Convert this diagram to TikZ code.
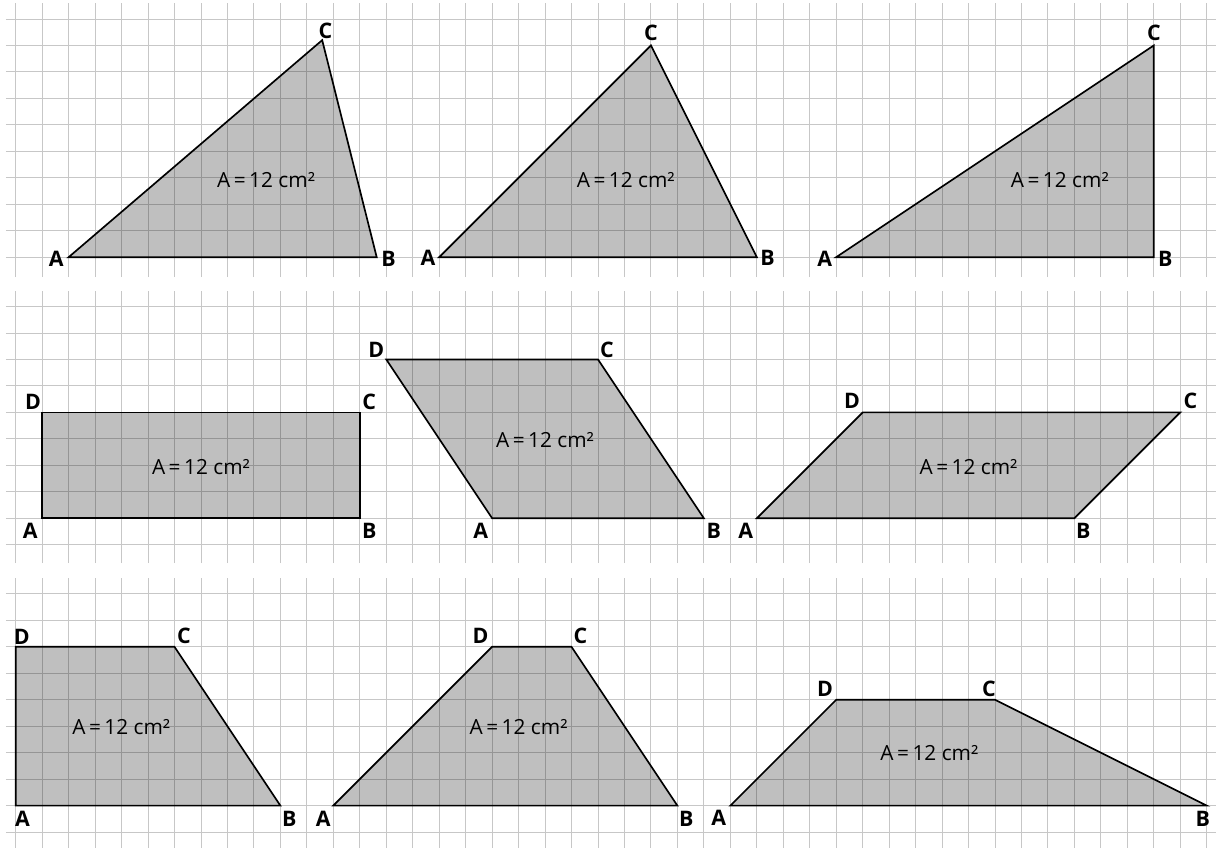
\documentclass[tikz,border=0pt]{standalone}
\usepackage{fontspec}
\setmainfont{Open Sans}
\usetikzlibrary{calc}

\tikzset{
  figure/.style={fill=black!25, draw=black, line width=0.9pt, line join=miter},
  gridline/.style={draw=black, draw opacity=0.22, line width=0.5pt},
  vtx/.style={font=\bfseries\fontsize{11.5}{13}\selectfont, inner sep=0pt},
  area/.style={font=\fontsize{11.2}{13}\selectfont, inner sep=0pt}
}

\begin{document}
\begin{tikzpicture}[x=0.5cm, y=0.5cm]
    \useasboundingbox (-0.593,-22.32) rectangle (45.35,9.717);

    % Row 1: triangles
    \begin{scope}
        \filldraw[figure] (2,0) coordinate (A1) -- (13.64,0) coordinate (B1) -- (11.58,8.2) coordinate (C1) -- cycle;
        \filldraw[figure] (16,0) coordinate (A2) -- (28,0) coordinate (B2) -- (24,8) coordinate (C2) -- cycle;
        \filldraw[figure] (31,0) coordinate (A3) -- (43,0) coordinate (B3) -- (43,8) coordinate (C3) -- cycle;
        \draw[gridline] \foreach \i in {0,...,45} {(\i,-0.75) -- (\i,9.6)}
                        \foreach \j in {0,...,9} {(-0.37,\j) -- (45.35,\j)};

        \node[vtx] at ($(A1)+(-0.47,-0.05)$) {A};
        \node[vtx] at ($(B1)+(0.45,-0.05)$) {B};
        \node[vtx] at ($(C1)+(0.12,0.36)$) {C};
        \node[area] (area1) at (9.46,2.92) {A\,=\,12 cm²};

        \node[vtx] at ($(A2)+(-0.42,-0.03)$) {A};
        \node[vtx] at ($(B2)+(0.41,-0.03)$) {B};
        \node[vtx] at ($(C2)+(0,0.48)$) {C};
        \node[area] (area2) at (23.05,2.93) {A\,=\,12 cm²};

        \node[vtx] at ($(A3)+(-0.43,-0.05)$) {A};
        \node[vtx] at ($(B3)+(0.43,-0.05)$) {B};
        \node[vtx] at ($(C3)+(0,0.48)$) {C};
        \node[area] (area3) at (39.45,2.92) {A\,=\,12 cm²};
    \end{scope}

    % Row 2: rectangle and parallelograms
    \begin{scope}[shift={(0,-9.864)}]
        \filldraw[figure] (1,0) coordinate (A4) -- (13,0) coordinate (B4) -- (13,4) coordinate (C4) -- (1,4) coordinate (D4) -- cycle;
        \filldraw[figure] (18,0) coordinate (A5) -- (26,0) coordinate (B5) -- (22,6) coordinate (C5) -- (14,6) coordinate (D5) -- cycle;
        \filldraw[figure] (28,0) coordinate (A6) -- (40,0) coordinate (B6) -- (44,4) coordinate (C6) -- (32,4) coordinate (D6) -- cycle;
        \draw[gridline] \foreach \i in {0,...,45} {(\i,-1.69) -- (\i,8.59)}
                        \foreach \j in {-1,...,8} {(-0.37,\j) -- (45.35,\j)};

        \node[vtx] at ($(A4)+(-0.45,-0.47)$) {A};
        \node[vtx] at ($(B4)+(0.36,-0.47)$) {B};
        \node[vtx] at ($(C4)+(0.36,0.40)$) {C};
        \node[vtx] at ($(D4)+(-0.34,0.40)$) {D};
        \node[area] (area4) at (7,1.94) {A\,=\,12 cm²};

        \node[vtx] at ($(A5)+(-0.43,-0.47)$) {A};
        \node[vtx] at ($(B5)+(0.38,-0.47)$) {B};
        \node[vtx] at ($(C5)+(0.34,0.38)$) {C};
        \node[vtx] at ($(D5)+(-0.38,0.38)$) {D};
        \node[area] (area5) at (20,2.95) {A\,=\,12 cm²};

        \node[vtx] at ($(A6)+(-0.42,-0.47)$) {A};
        \node[vtx] at ($(B6)+(0.34,-0.47)$) {B};
        \node[vtx] at ($(C6)+(0.38,0.42)$) {C};
        \node[vtx] at ($(D6)+(-0.40,0.42)$) {D};
        \node[area] (area6) at (36,1.94) {A\,=\,12 cm²};
    \end{scope}

    % Row 3: trapezoids
    \begin{scope}[shift={(0,-20.72)}]
        \filldraw[figure] (0,0) coordinate (A7) -- (10,0) coordinate (B7) -- (6,6) coordinate (C7) -- (0,6) coordinate (D7) -- cycle;
        \filldraw[figure] (12,0) coordinate (A8) -- (25,0) coordinate (B8) -- (21,6) coordinate (C8) -- (18,6) coordinate (D8) -- cycle;
        \filldraw[figure] (27,0) coordinate (A9) -- (45,0) coordinate (B9) -- (37,4) coordinate (C9) -- (31,4) coordinate (D9) -- cycle;
        \draw[gridline] \foreach \i in {0,...,45} {(\i,-1.7) -- (\i,8.6)}
                        \foreach \j in {-1,...,8} {(-0.37,\j) -- (45.35,\j)};

        \node[vtx] at ($(A7)+(0.26,-0.49)$) {A};
        \node[vtx] at ($(B7)+(0.34,-0.49)$) {B};
        \node[vtx] at ($(C7)+(0.36,0.42)$) {C};
        \node[vtx] at ($(D7)+(0.23,0.38)$) {D};
        \node[area] (area7) at (3.99,2.98) {A\,=\,12 cm²};

        \node[vtx] at ($(A8)+(-0.38,-0.49)$) {A};
        \node[vtx] at ($(B8)+(0.34,-0.49)$) {B};
        \node[vtx] at ($(C8)+(0.34,0.42)$) {C};
        \node[vtx] at ($(D8)+(-0.44,0.42)$) {D};
        \node[area] (area8) at (19,2.97) {A\,=\,12 cm²};

        \node[vtx] at ($(A9)+(-0.44,-0.47)$) {A};
        \node[vtx] at ($(B9)+(-0.15,-0.49)$) {B};
        \node[vtx] at ($(C9)+(-0.23,0.40)$) {C};
        \node[vtx] at ($(D9)+(-0.42,0.40)$) {D};
        \node[area] (area9) at (34.52,1.99) {A\,=\,12 cm²};
    \end{scope}
\end{tikzpicture}
\end{document}
